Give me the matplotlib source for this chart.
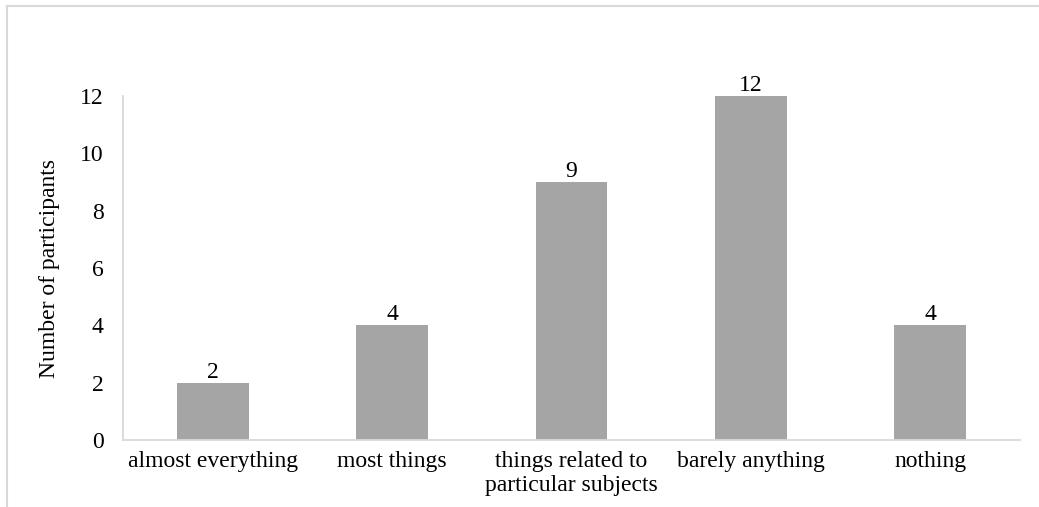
import matplotlib.pyplot as plt
from matplotlib.lines import Line2D

categories = ["almost everything", "most things", "things related to\nparticular subjects",
              "barely anything", "nothing"]
counts = [2, 4, 9, 12, 4]
yticks = [0, 2, 4, 6, 8, 10, 12]

plt.rcParams['font.family'] = ['Liberation Serif', 'DejaVu Serif']
FS = 17
W, H = 1039, 507
fig = plt.figure(figsize=(W / 100, H / 100), dpi=100)
ax = fig.add_axes([123 / W, 67 / H, (1020 - 123) / W, (440 - 96) / H])

x = range(len(categories))
bars = ax.bar(x, counts, width=0.4, color='#a5a5a5', zorder=2)
for b, v in zip(bars, counts):
    ax.text(b.get_x() + b.get_width() / 2, v, str(v), ha='center', va='bottom',
            fontsize=FS, color='black')

ax.set_xlim(-0.5, len(categories) - 0.5)
ax.set_ylim(0, 12)
ax.set_yticks(yticks)
ax.set_xticks(list(x))
ax.set_xticklabels(categories, fontsize=FS, linespacing=1.15)
ax.tick_params(axis='both', length=0, labelsize=FS, colors='black')
ax.tick_params(axis='y', pad=14)
ax.tick_params(axis='x', pad=8)
for side in ['top', 'right']:
    ax.spines[side].set_visible(False)
for side in ['left', 'bottom']:
    ax.spines[side].set_color('#d9d9d9')
    ax.spines[side].set_linewidth(1.3)
ax.set_ylabel('Number of participants', fontsize=FS, labelpad=14)

# outer border of the chart area
fig.add_artist(Line2D([7 / W, 7 / W], [0, 1 - 6 / H], transform=fig.transFigure,
                      color='#d9d9d9', lw=1.5))
fig.add_artist(Line2D([7 / W, 1], [1 - 6 / H, 1 - 6 / H], transform=fig.transFigure,
                      color='#d9d9d9', lw=1.5))

fig.savefig('out.png', dpi=100)
